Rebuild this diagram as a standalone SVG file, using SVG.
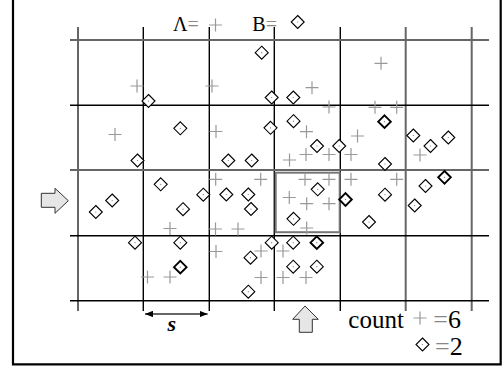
<svg xmlns="http://www.w3.org/2000/svg" xmlns:xlink="http://www.w3.org/1999/xlink" width="503" height="366" viewBox="0 0 503 366">
<style>
.gk{stroke:#000;stroke-width:1.4;fill:none}
.gg{stroke:#666;stroke-width:2;fill:none}
.p{stroke:#999;stroke-width:1.2;fill:none}
.d{stroke:#000;stroke-width:1.1;fill:#fff}
.db{stroke:#000;stroke-width:1.9;fill:#fff}
text{font-family:'Liberation Serif','Times New Roman',serif;fill:#000}
.eq{fill:#888}
.fat{fill:#e6e6e6;stroke:#333;stroke-width:1}
</style>
<defs>
<g id="pl"><path class="p" d="M-6.5,0H6.5M0,-6.5V6.5"/></g>
<g id="dm"><path class="d" d="M0,-6.5L6.5,0L0,6.5L-6.5,0Z"/><circle r="0.6" fill="#777"/></g>
<g id="dmb"><path class="db" d="M0,-6.3L6.3,0L0,6.3L-6.3,0Z"/><circle r="0.6" fill="#777"/></g>
<marker id="ah" viewBox="0 0 10 8" refX="10" refY="4" markerWidth="8" markerHeight="6.4" markerUnits="userSpaceOnUse" orient="auto-start-reverse"><path d="M0,0L10,4L0,8Z" fill="#000"/></marker>
</defs>
<rect width="503" height="366" fill="#fff"/>
<g id="frame" stroke="#000" stroke-width="2.2" fill="none">
<path d="M13,0V364.3H500.7V0"/>
</g>
<g id="grid">
<path class="gg" d="M78,27V311"/>
<path class="gk" d="M143.3,27V311"/>
<path class="gk" d="M209.3,27V311" stroke="#222"/>
<path class="gk" d="M274.3,27V311" stroke="#111"/>
<path class="gk" d="M340.3,27V311" stroke="#333"/>
<path class="gg" d="M405.7,27V311" stroke="#444" stroke-width="1.7"/>
<path class="gg" d="M471.7,27V311" stroke="#555" stroke-width="1.7"/>
<path class="gg" d="M70,40H489"/>
<path class="gk" d="M70,105.3H489"/>
<path class="gg" d="M70,170H489" stroke="#777"/>
<path class="gk" d="M70,235.7H489"/>
<path class="gk" d="M70,300.7H489"/>
</g>
<g id="cell">
<rect x="275.7" y="172.7" width="64" height="59.5" fill="none" stroke="#777" stroke-width="2"/>
</g>
<g id="pluses">
<use xlink:href="#pl" x="137" y="86"/>
<use xlink:href="#pl" x="212" y="86"/>
<use xlink:href="#pl" x="115" y="134.5"/>
<use xlink:href="#pl" x="216" y="131.5"/>
<use xlink:href="#pl" x="312" y="87.7"/>
<use xlink:href="#pl" x="329" y="107"/>
<use xlink:href="#pl" x="381" y="63.3"/>
<use xlink:href="#pl" x="375" y="107.3"/>
<use xlink:href="#pl" x="396.7" y="107.3"/>
<use xlink:href="#pl" x="306.5" y="131.7"/>
<use xlink:href="#pl" x="357.5" y="136"/>
<use xlink:href="#pl" x="289.5" y="160"/>
<use xlink:href="#pl" x="306" y="154.5"/>
<use xlink:href="#pl" x="329" y="154.5"/>
<use xlink:href="#pl" x="351" y="154.5"/>
<use xlink:href="#pl" x="420" y="155"/>
<use xlink:href="#pl" x="170" y="228.5"/>
<use xlink:href="#pl" x="215.5" y="229"/>
<use xlink:href="#pl" x="238" y="229"/>
<use xlink:href="#pl" x="216" y="251.5"/>
<use xlink:href="#pl" x="147.5" y="277"/>
<use xlink:href="#pl" x="170" y="277"/>
<use xlink:href="#pl" x="215.7" y="179.3"/>
<use xlink:href="#pl" x="260.7" y="179.3"/>
<use xlink:href="#pl" x="305" y="179.3"/>
<use xlink:href="#pl" x="329" y="179.3"/>
<use xlink:href="#pl" x="351" y="179.3"/>
<use xlink:href="#pl" x="396.7" y="179.3"/>
<use xlink:href="#pl" x="289.3" y="197.5"/>
<use xlink:href="#pl" x="306.7" y="203.7"/>
<use xlink:href="#pl" x="329" y="203.7"/>
<use xlink:href="#pl" x="306.7" y="228"/>
<use xlink:href="#pl" x="261" y="251"/>
<use xlink:href="#pl" x="283" y="251"/>
<use xlink:href="#pl" x="261" y="277.5"/>
<use xlink:href="#pl" x="283" y="277.5"/>
<use xlink:href="#pl" x="306" y="277.5"/>
</g>
<g id="diamonds">
<use xlink:href="#dm" x="148.5" y="101"/>
<use xlink:href="#dm" x="180.3" y="128.3"/>
<use xlink:href="#dm" x="137.5" y="160.5"/>
<use xlink:href="#dm" x="228.3" y="160.5"/>
<use xlink:href="#dm" x="251.7" y="160.5"/>
<use xlink:href="#dm" x="261.7" y="52.7"/>
<use xlink:href="#dm" x="271.7" y="97.5"/>
<use xlink:href="#dm" x="293.3" y="97.5"/>
<use xlink:href="#dm" x="270.5" y="127.8"/>
<use xlink:href="#dm" x="293.5" y="121.2"/>
<use xlink:href="#dm" x="317" y="146"/>
<use xlink:href="#dm" x="339.2" y="146"/>
<use xlink:href="#dmb" x="384.5" y="121.7"/>
<use xlink:href="#dm" x="413.3" y="135.5"/>
<use xlink:href="#dm" x="430.5" y="146"/>
<use xlink:href="#dm" x="448.3" y="137.5"/>
<use xlink:href="#dm" x="385" y="164"/>
<use xlink:href="#dm" x="160.7" y="184.3"/>
<use xlink:href="#dm" x="112.2" y="200.5"/>
<use xlink:href="#dm" x="95.8" y="212"/>
<use xlink:href="#dm" x="203.3" y="194.7"/>
<use xlink:href="#dm" x="183" y="209.2"/>
<use xlink:href="#dm" x="135" y="242.7"/>
<use xlink:href="#dm" x="180.3" y="242.7"/>
<use xlink:href="#dmb" x="180.3" y="267.2"/>
<use xlink:href="#dm" x="226.3" y="194.5"/>
<use xlink:href="#dm" x="248.3" y="194.5"/>
<use xlink:href="#dm" x="251" y="209"/>
<use xlink:href="#dm" x="317.7" y="189.3"/>
<use xlink:href="#dmb" x="345.5" y="199.5"/>
<use xlink:href="#dm" x="293.5" y="218.8"/>
<use xlink:href="#dm" x="271.7" y="242.7"/>
<use xlink:href="#dm" x="293.2" y="242.7"/>
<use xlink:href="#dmb" x="316.8" y="242.7"/>
<use xlink:href="#dm" x="250.5" y="257.7"/>
<use xlink:href="#dm" x="293.2" y="266.7"/>
<use xlink:href="#dm" x="316.8" y="266.7"/>
<use xlink:href="#dm" x="248.3" y="291.7"/>
<use xlink:href="#dm" x="385" y="194.7"/>
<use xlink:href="#dm" x="369" y="222"/>
<use xlink:href="#dmb" x="444.5" y="177.3"/>
<use xlink:href="#dm" x="425.5" y="186"/>
<use xlink:href="#dm" x="414.7" y="205.5"/>
</g>
<g id="arrows">
<path id="left-arrow" class="fat" d="M41.3,193.3H55V188.3L68.3,200.7L55,213.3V207.3H41.3Z"/>
<path id="up-arrow" class="fat" d="M305,306L318.3,319.3H312.3V332.3H299.3V319.3H292.7Z"/>
<path id="s-arrow" d="M145,314H207.6" stroke="#666" stroke-width="2" fill="none" marker-start="url(#ah)" marker-end="url(#ah)"/>
</g>
<g id="labels">
<text x="173" y="30.5" font-size="20" font-family="Liberation Serif, serif">Λ<tspan class="eq">=</tspan></text>
<use xlink:href="#pl" x="215.5" y="25"/>
<text x="252.3" y="30.5" font-size="20" font-family="Liberation Serif, serif">B<tspan class="eq">=</tspan></text>
<use xlink:href="#dm" x="297.7" y="22"/>
<text x="171.7" y="331" font-size="22" font-style="italic" font-weight="bold" text-anchor="middle" font-family="Liberation Serif, serif">s</text>
<text x="348.3" y="328.3" font-size="25" font-family="Liberation Serif, serif">count</text>
<use xlink:href="#pl" x="420" y="318"/>
<text x="433.3" y="328.3" font-size="26" font-family="Liberation Serif, serif"><tspan class="eq">=</tspan>6</text>
<use xlink:href="#dm" x="422.5" y="344.5"/>
<text x="435" y="354.5" font-size="26" font-family="Liberation Serif, serif"><tspan class="eq">=</tspan>2</text>
</g>
</svg>
